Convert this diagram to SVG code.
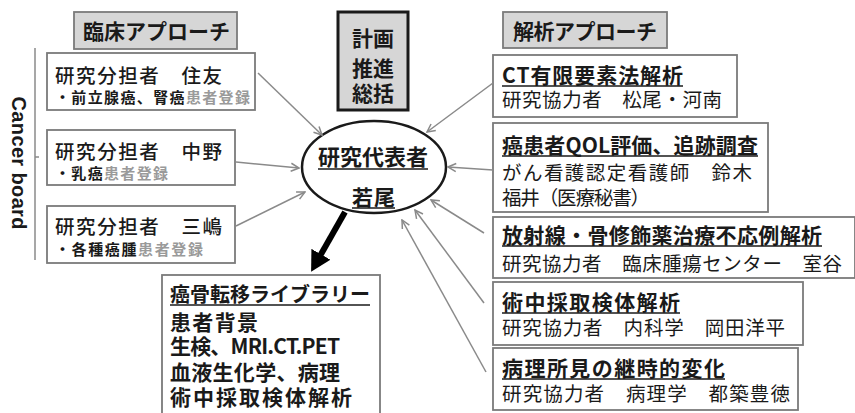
<svg xmlns="http://www.w3.org/2000/svg" width="855" height="413" viewBox="0 0 855 413">
<defs>
<style>
text{font-family:"Noto Sans CJK JP","Liberation Sans",sans-serif;fill:#1a1a1a}
.box{fill:#fff;stroke:#7a7a7a;stroke-width:1.8}
.title{fill:#d6d6d6;stroke:#7a7a7a;stroke-width:1.8}
.h{font-size:21px;font-weight:bold}
.t{font-size:19.5px}
.s{font-size:15px;font-weight:bold}
.g{fill:#9a9a9a}
.ul{stroke:#1a1a1a;stroke-width:1.5}
.con{stroke:#8a8a8a;stroke-width:1.5;fill:none}
</style>
<marker id="ah" viewBox="0 0 10 10" refX="9" refY="5" markerWidth="10" markerHeight="10" markerUnits="userSpaceOnUse" orient="auto">
<path d="M1,1 L9,5 L1,9" fill="none" stroke="#8a8a8a" stroke-width="1.5"/>
</marker>
<marker id="big" viewBox="0 0 20 22" refX="2" refY="11" markerWidth="20" markerHeight="22" markerUnits="userSpaceOnUse" orient="auto">
<path d="M0,0 L20,11 L0,22 Z" fill="#000"/>
</marker>
</defs>

<g id="cancer-board">
<line x1="35" y1="48" x2="35" y2="260" stroke="#8a8a8a" stroke-width="1.5"/>
<line x1="35" y1="157" x2="39" y2="157" stroke="#8a8a8a" stroke-width="1.5"/>
<text x="12" y="163" transform="rotate(90 12 163)" text-anchor="middle" textLength="133" style="font-family:'Liberation Sans',Arial,sans-serif;font-size:20px;font-weight:bold">Cancer board</text>
</g>

<g id="clinical-title">
<rect class="title" x="74" y="12" width="163" height="37"/>
<text class="h" x="83" y="39" textLength="147">臨床アプローチ</text>
</g>

<g id="sumitomo">
<rect class="box" x="47" y="53" width="208" height="57"/>
<text class="t" x="55" y="83" textLength="167" style="font-weight:500">研究分担者　住友</text>
<text class="s" x="55" y="103" textLength="195">・前立腺癌、腎癌<tspan class="g">患者登録</tspan></text>
</g>

<g id="nakano">
<rect class="box" x="47" y="130" width="188" height="55"/>
<text class="t" x="55" y="159" textLength="167" style="font-weight:500">研究分担者　中野</text>
<text class="s" x="55" y="179" textLength="113">・乳癌<tspan class="g">患者登録</tspan></text>
</g>

<g id="mishima">
<rect class="box" x="47" y="206" width="188" height="57"/>
<text class="t" x="55" y="234" textLength="167" style="font-weight:500">研究分担者　三嶋</text>
<text class="s" x="55" y="255" textLength="148">・各種癌腫<tspan class="g">患者登録</tspan></text>
</g>

<g id="plan">
<rect x="338" y="12" width="70" height="98" fill="#d6d6d6" stroke="#1a1a1a" stroke-width="3"/>
<text class="h" x="373" y="46" text-anchor="middle">計画</text>
<text class="h" x="373" y="76" text-anchor="middle">推進</text>
<text class="h" x="373" y="101" text-anchor="middle">総括</text>
</g>

<g id="pi">
<ellipse cx="374" cy="167" rx="72" ry="46" fill="#fff" stroke="#1a1a1a" stroke-width="2.5"/>
<text class="h" x="318" y="165" textLength="110" style="font-size:22px">研究代表者</text>
<line class="ul" x1="318" y1="169" x2="428" y2="169"/>
<text class="h" x="352" y="205" textLength="43">若尾</text>
<line class="ul" x1="352" y1="208" x2="395" y2="208"/>
</g>

<g id="analysis-title">
<rect class="title" x="503" y="12" width="164" height="36"/>
<text class="h" x="513" y="39" textLength="144">解析アプローチ</text>
</g>

<g id="ct">
<rect class="box" x="493" y="55" width="244" height="62"/>
<text class="h" x="502" y="83" textLength="181">CT有限要素法解析</text>
<line class="ul" x1="502" y1="86" x2="683" y2="86"/>
<text class="t" x="502" y="107" textLength="220">研究協力者　松尾・河南</text>
</g>

<g id="qol">
<rect class="box" x="493" y="123" width="275" height="89"/>
<text class="h" x="502" y="153" textLength="256">癌患者QOL評価、追跡調査</text>
<line class="ul" x1="502" y1="156" x2="758" y2="156"/>
<text class="t" x="502" y="180" textLength="250">がん看護認定看護師　鈴木</text>
<text class="t" x="502" y="205" textLength="148">福井（医療秘書）</text>
</g>

<g id="radiation">
<rect class="box" x="493" y="217" width="362" height="61"/>
<text class="h" x="502" y="243" textLength="320">放射線・骨修飾薬治療不応例解析</text>
<line class="ul" x1="502" y1="246" x2="822" y2="246"/>
<text class="t" x="502" y="271" textLength="340">研究協力者　臨床腫瘍センター　室谷</text>
</g>

<g id="specimen">
<rect class="box" x="493" y="282" width="310" height="63"/>
<text class="h" x="502" y="310" textLength="178">術中採取検体解析</text>
<line class="ul" x1="502" y1="313" x2="680" y2="313"/>
<text class="t" x="502" y="335" textLength="283">研究協力者　内科学　岡田洋平</text>
</g>

<g id="pathology">
<rect class="box" x="493" y="348" width="305" height="62"/>
<text class="h" x="502" y="376" textLength="223">病理所見の継時的変化</text>
<line class="ul" x1="502" y1="379" x2="725" y2="379"/>
<text class="t" x="502" y="401" textLength="288">研究協力者　病理学　都築豊徳</text>
</g>

<g id="library">
<rect class="box" x="162" y="275" width="218" height="145"/>
<text class="h" x="170" y="302" textLength="200" style="font-size:20px">癌骨転移ライブラリー</text>
<line class="ul" x1="170" y1="305" x2="370" y2="305"/>
<text class="h" x="170" y="330" textLength="88">患者背景</text>
<text class="h" x="170" y="354" textLength="170">生検、MRI.CT.PET</text>
<text class="h" x="170" y="380" textLength="170">血液生化学、病理</text>
<text class="h" x="170" y="405" textLength="182">術中採取検体解析</text>
</g>

<g id="connectors">
<line class="con" x1="258" y1="73" x2="322" y2="135" marker-end="url(#ah)"/>
<line class="con" x1="236" y1="162" x2="299" y2="168" marker-end="url(#ah)"/>
<line class="con" x1="236" y1="226" x2="305" y2="192" marker-end="url(#ah)"/>
<line class="con" x1="493" y1="83" x2="427" y2="132" marker-end="url(#ah)"/>
<line class="con" x1="493" y1="170" x2="448" y2="167" marker-end="url(#ah)"/>
<line class="con" x1="484" y1="233" x2="431" y2="200" marker-end="url(#ah)"/>
<line class="con" x1="484" y1="303" x2="415" y2="210" marker-end="url(#ah)"/>
<line class="con" x1="486" y1="372" x2="402" y2="220" marker-end="url(#ah)"/>
<line x1="345" y1="212" x2="320" y2="256" stroke="#000" stroke-width="6" marker-end="url(#big)"/>
</g>
</svg>
